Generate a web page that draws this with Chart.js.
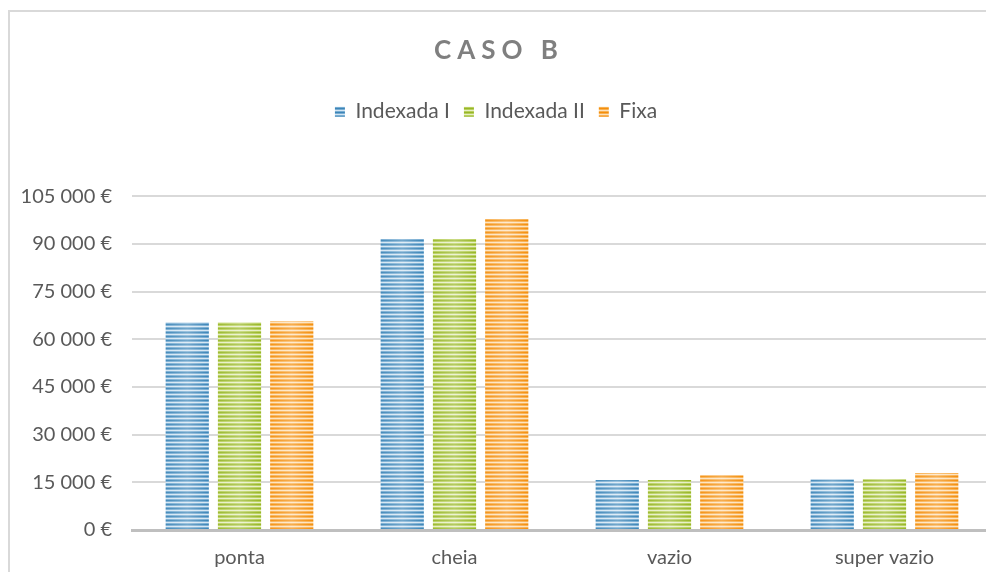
<!DOCTYPE html>
<html>
<head>
<meta charset="utf-8">
<script src="https://cdn.jsdelivr.net/npm/chart.js@4/dist/chart.umd.min.js"></script>
<style>
  html, body { margin: 0; padding: 0; background: #ffffff; overflow: hidden; width: 986px; height: 572px; }
  #wrap { position: relative; width: 986px; height: 572px; overflow: hidden; }
  #frame { position: absolute; left: 8px; top: 10px; width: 2000px; height: 2000px;
           border-left: 2px solid #d9d9d9; border-top: 2px solid #d9d9d9; pointer-events: none; }
  canvas { position: absolute; left: 0; top: 0; }
</style>
</head>
<body>
<div id="wrap">
  <canvas id="c" width="992" height="572" style="width:992px;height:572px"></canvas>
  <div id="frame"></div>
</div>
<script>
const categories = ["ponta", "cheia", "vazio", "super vazio"];
const seriesNames = ["Indexada I", "Indexada II", "Fixa"];
const indexadaI = [65400, 91500, 15700, 15900];
const indexadaII = [65400, 91500, 15700, 16000];
const fixa = [65700, 97800, 17200, 17900];
const yTicks = [0, 15000, 30000, 45000, 60000, 75000, 90000, 105000];
const chartTitle = "CASO B";

function stripes(dark, mid, light) {
  const p = document.createElement('canvas');
  p.width = 1; p.height = 4;
  const g = p.getContext('2d');
  g.fillStyle = dark; g.fillRect(0, 0, 1, 1);
  g.fillStyle = mid; g.fillRect(0, 1, 1, 1);
  g.fillStyle = light; g.fillRect(0, 2, 1, 1);
  g.fillStyle = mid; g.fillRect(0, 3, 1, 1);
  return document.getElementById('c').getContext('2d').createPattern(p, 'repeat');
}
const blueFill = stripes('#3c85b7', '#77acd2', '#d4e6f3');
const greenFill = stripes('#97b628', '#b8cf5c', '#e6efc4');
const orangeFill = stripes('#f48e0c', '#f8b050', '#fde2bd');

function euro(v) {
  return String(v).replace(/\B(?=(\d{3})+(?!\d))/g, ' ') + ' €';
}

const FONT = "Lato, 'Open Sans', sans-serif";

const chart = new Chart(document.getElementById('c'), {
  type: 'bar',
  data: {
    labels: categories,
    datasets: [
      { label: seriesNames[0], data: indexadaI, backgroundColor: blueFill, borderWidth: 0 },
      { label: seriesNames[1], data: indexadaII, backgroundColor: greenFill, borderWidth: 0 },
      { label: seriesNames[2], data: fixa, backgroundColor: orangeFill, borderWidth: 0 }
    ]
  },
  options: {
    responsive: false,
    animation: false,
    devicePixelRatio: 1,
    layout: { padding: { left: 0, right: 0, top: 0, bottom: 0 } },
    datasets: { bar: { categoryPercentage: 0.729, barPercentage: 0.827 } },
    plugins: {
      tooltip: { enabled: false },
      title: {
        display: true,
        text: chartTitle,
        color: '#7f7f7f',
        font: { family: FONT, size: 26, weight: 'bold' },
        padding: { top: 35, bottom: 21 }
      },
      legend: {
        display: true,
        position: 'top',
        labels: {
          color: '#595959',
          font: { family: FONT, size: 21 },
          boxWidth: 10,
          boxHeight: 10,
          padding: 14
        }
      }
    },
    scales: {
      x: {
        grid: { display: false, drawTicks: false },
        border: { display: true, color: '#bfbfbf', width: 3 },
        ticks: { color: '#595959', font: { family: FONT, size: 20 }, padding: 16 },
        afterFit: s => { s.height = 42; }
      },
      y: {
        min: 0,
        max: 105000,
        afterBuildTicks: s => { s.ticks = yTicks.map(v => ({ value: v })); },
        grid: { color: '#d9d9d9', lineWidth: 2, drawTicks: false },
        border: { display: false },
        ticks: { color: '#595959', font: { family: FONT, size: 20 }, padding: 20, callback: v => euro(v) },
        afterFit: s => { s.width = 132; }
      }
    }
  },
  plugins: [{
    id: 'layoutTweaks',
    afterInit(c) {
      const tb = c.titleBlock;
      const orig = tb.draw.bind(tb);
      tb.draw = function () {
        const ctx = c.ctx;
        ctx.save();
        ctx.letterSpacing = '6px';
        ctx.translate(3, 0);
        orig();
        ctx.restore();
      };
      const lg = c.legend;
      const fit = lg.fit.bind(lg);
      lg.fit = function () { fit(); this.height += 64; };
    },
    afterDatasetsDraw(c) {
      // soft horizontal sheen across each bar, as in the reference
      const ctx = c.ctx;
      c.data.datasets.forEach((ds, i) => {
        c.getDatasetMeta(i).data.forEach(bar => {
          const { x, y, base, width } = bar.getProps(['x', 'y', 'base', 'width'], true);
          const l = x - width / 2, r = x + width / 2;
          const g = ctx.createLinearGradient(l, 0, r, 0);
          g.addColorStop(0, 'rgba(255,255,255,0.05)');
          g.addColorStop(0.5, 'rgba(255,255,255,0.28)');
          g.addColorStop(1, 'rgba(255,255,255,0.0)');
          ctx.save();
          ctx.fillStyle = g;
          ctx.fillRect(l, y, width, base - y);
          ctx.restore();
        });
      });
    }
  }]
});
chart.update();
</script>
</body>
</html>
